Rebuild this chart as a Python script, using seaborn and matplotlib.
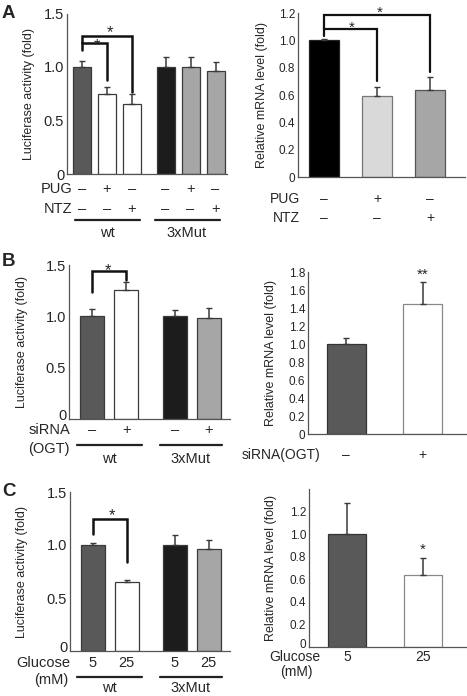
import matplotlib
matplotlib.use("Agg")
import matplotlib.pyplot as plt
import matplotlib.transforms as mtransforms
from matplotlib.lines import Line2D
import seaborn as sns
import pandas as pd

# ---- data ----
# A: luciferase, wt / 3xMut x (ctrl, PUG, NTZ)
a_luc_cond = ["wt ctrl", "wt PUG", "wt NTZ", "3xMut ctrl", "3xMut PUG", "3xMut NTZ"]
a_luc_mean = [1.00, 0.75, 0.65, 1.00, 1.00, 0.96]
a_luc_err = [0.06, 0.06, 0.10, 0.09, 0.09, 0.09]
a_pug = ["–", "+", "–", "–", "+", "–"]
a_ntz = ["–", "–", "+", "–", "–", "+"]

# A: mRNA
a_mrna_cond = ["ctrl", "PUG", "NTZ"]
a_mrna_mean = [1.00, 0.59, 0.64]
a_mrna_err = [0.01, 0.065, 0.09]
a_mrna_pug = ["–", "+", "–"]
a_mrna_ntz = ["–", "–", "+"]

# B: siRNA(OGT)
b_luc_cond = ["wt -", "wt +", "3xMut -", "3xMut +"]
b_luc_mean = [1.00, 1.255, 1.00, 0.98]
b_luc_err = [0.07, 0.075, 0.06, 0.10]
b_sirna = ["–", "+", "–", "+"]
b_mrna_cond = ["-", "+"]
b_mrna_mean = [1.00, 1.44]
b_mrna_err = [0.067, 0.25]
b_mrna_sirna = ["–", "+"]

# C: glucose (mM)
c_luc_cond = ["wt 5", "wt 25", "3xMut 5", "3xMut 25"]
c_luc_mean = [1.00, 0.65, 1.00, 0.96]
c_luc_err = [0.02, 0.02, 0.09, 0.09]
c_glucose = ["5", "25", "5", "25"]
c_mrna_cond = ["5 mM", "25 mM"]
c_mrna_mean = [1.00, 0.64]
c_mrna_err = [0.275, 0.15]
c_mrna_glucose = ["5", "25"]

# ---- style ----
sns.set_style("white")
plt.rcParams["font.family"] = ["Liberation Sans", "DejaVu Sans"]

DARK, BLACK, NEARBLACK, LIGHT, VLIGHT, WHITE = "#595959", "#000000", "#1c1c1c", "#a6a6a6", "#d9d9d9", "#ffffff"
EDGE = "#3a3a3a"

W, H = 467, 696
fig = plt.figure(figsize=(W / 100, H / 100), dpi=100)


def px_axes(x0, x1, ytop, ybot):
    return fig.add_axes([x0 / W, 1 - ybot / H, (x1 - x0) / W, (ybot - ytop) / H])


def fy(ypx):
    return 1 - ypx / H


def draw_bars(ax, pos, cond, mean, err, colors, width, capsize, edges=None):
    df = pd.DataFrame({"pos": pos, "cond": cond, "mean": mean})
    sns.barplot(data=df, x="pos", y="mean", hue="cond", palette=colors, dodge=False,
                native_scale=True, legend=False, width=width, errorbar=None,
                edgecolor=EDGE, linewidth=0.9, ax=ax)
    if edges is not None:
        for patch, ec in zip(ax.patches, edges):
            patch.set_edgecolor(ec)
    ax.errorbar(pos, mean, yerr=[[0] * len(err), err], fmt="none", ecolor=EDGE,
                elinewidth=1.1, capsize=capsize, capthick=1.0)


def style_axes(ax, ylim, yticks, tick_fs, label, label_x, xlim, xt, zero_lift=0):
    ax.set_xlim(*xlim)
    ax.set_ylim(*ylim)
    ax.set_yticks(yticks)
    ax.set_yticklabels(["0" if t == 0 else f"{t:.1f}" for t in yticks], fontsize=tick_fs)
    ax.set_xticks(xt)
    ax.set_xticklabels([])
    ax.set_xlabel("")
    ax.set_ylabel(label, fontsize=9)
    ax.yaxis.set_label_coords(label_x, 0.5)
    for s in ["top", "right"]:
        ax.spines[s].set_visible(False)
    for s in ["left", "bottom"]:
        ax.spines[s].set_color("#555555")
        ax.spines[s].set_linewidth(0.9)
    ax.tick_params(axis="y", direction="in", length=2.5, width=0.8, color="#555555", pad=2)
    ax.tick_params(axis="x", direction="in", length=2.5, width=0.8, color="#555555")
    if zero_lift:
        # nudge the "0" label up a little so it clears the row labels beneath
        lbl = ax.yaxis.get_major_ticks()[0].label1
        lbl.set_transform(lbl.get_transform() +
                          mtransforms.ScaledTranslation(0, zero_lift / 100, fig.dpi_scale_trans))


def star(ax, x, y, s="*", fs=12):
    ax.annotate(s, (x, y), xytext=(0, -0.58 * fs), textcoords="offset points",
                ha="center", va="baseline", fontsize=fs, annotation_clip=False)


def bracket(ax, x0, x1, y0, ytop, y1, lw=1.8):
    ax.plot([x0, x0, x1, x1], [y0, ytop, ytop, y1], color="#111111", lw=lw,
            solid_joinstyle="miter", clip_on=False)


def row_text(ax, xs, ypx, labels, fs):
    tr = mtransforms.blended_transform_factory(ax.transData, fig.transFigure)
    for x, s in zip(xs, labels):
        ax.text(x, fy(ypx), s, transform=tr, ha="center", va="center", fontsize=fs)


def group_line(x0, x1, ypx):
    fig.add_artist(Line2D([x0 / W, x1 / W], [fy(ypx), fy(ypx)], color="#222222", lw=1.6))


def fig_text(xpx, ypx, s, fs, ha="right", **kw):
    fig.text(xpx / W, fy(ypx), s, ha=ha, va="center", fontsize=fs, **kw)


LUC = "Luciferase activity (fold)"
MRNA = "Relative mRNA level (fold)"
FS = 10.5

# ---------- A left ----------
ax = px_axes(67, 227, 13.5, 174)
pos6 = [0, 1, 2, 3.34, 4.34, 5.34]
draw_bars(ax, pos6, a_luc_cond, a_luc_mean, a_luc_err, [DARK, WHITE, WHITE, NEARBLACK, LIGHT, LIGHT], 0.72, 1.9)
style_axes(ax, (0, 1.5), [0, 0.5, 1.0, 1.5], FS, LUC, -0.2, (-0.6, 5.8), [2.67])
bracket(ax, 0, 1, 1.16, 1.22, 0.875)
bracket(ax, 0, 2, 1.22, 1.29, 0.77)
star(ax, 0.6, 1.245)
star(ax, 1.12, 1.365)
row_text(ax, pos6, 189, a_pug, FS)
row_text(ax, pos6, 209, a_ntz, FS)
fig_text(72, 189, "PUG", FS)
fig_text(72, 209, "NTZ", FS)
group_line(75, 140, 220)
group_line(155, 220, 220)
fig_text(107, 233, "wt", FS, ha="center")
fig_text(187, 233, "3xMut", FS, ha="center")
fig_text(2, 13, "A", 13.5, ha="left", fontweight="bold")

# ---------- A right ----------
ax = px_axes(298, 465, 13, 177)
pos3 = [0, 1, 2]
draw_bars(ax, pos3, a_mrna_cond, a_mrna_mean, a_mrna_err, [BLACK, VLIGHT, LIGHT], 0.57, 2.2,
          edges=["#222222", "#777777", "#555555"])
style_axes(ax, (0, 1.2), [0, 0.2, 0.4, 0.6, 0.8, 1.0, 1.2], 8.5, MRNA, -0.18, (-0.49, 2.66), [0.5, 1.5, 2.5])
bracket(ax, 0, 1, 1.03, 1.08, 0.70, lw=1.6)
bracket(ax, 0, 2, 1.08, 1.185, 0.77, lw=1.6)
star(ax, 0.52, 1.125, fs=11)
star(ax, 1.06, 1.235, fs=11)
row_text(ax, pos3, 199, a_mrna_pug, 10)
row_text(ax, pos3, 218, a_mrna_ntz, 10)
fig_text(300, 199, "PUG", 10)
fig_text(300, 218, "NTZ", 10)

# ---------- B left ----------
ax = px_axes(69, 230, 265, 419)
pos4 = [0, 1, 2.43, 3.43]
draw_bars(ax, pos4, b_luc_cond, b_luc_mean, b_luc_err, [DARK, WHITE, NEARBLACK, LIGHT], 0.71, 1.9)
style_axes(ax, (0, 1.5), [0, 0.5, 1.0, 1.5], FS, LUC, -0.255, (-0.68, 4.06), [1.7], zero_lift=4)
bracket(ax, 0, 1, 1.24, 1.44, 1.35)
star(ax, 0.46, 1.5)
row_text(ax, pos4, 430, b_sirna, FS)
fig_text(70, 430, "siRNA", FS)
fig_text(70, 449, "(OGT)", FS)
group_line(77, 142, 445)
group_line(160, 222, 445)
fig_text(109, 459, "wt", FS, ha="center")
fig_text(191, 459, "3xMut", FS, ha="center")
fig_text(2, 262, "B", 13.5, ha="left", fontweight="bold")

# ---------- B right ----------
ax = px_axes(308, 467, 272, 434)
pos2 = [0, 1]
draw_bars(ax, pos2, b_mrna_cond, b_mrna_mean, b_mrna_err, [DARK, WHITE], 0.51, 2.2,
          edges=["#333333", "#888888"])
style_axes(ax, (0, 1.8), [0, 0.2, 0.4, 0.6, 0.8, 1.0, 1.2, 1.4, 1.6, 1.8], 8.5, MRNA, -0.195, (-0.5, 1.58), [0.5, 1.5])
star(ax, 1, 1.82, "**", fs=11)
row_text(ax, pos2, 455, b_mrna_sirna, 10)
fig_text(320, 455, "siRNA(OGT)", 10)

# ---------- C left ----------
ax = px_axes(70, 230, 492, 651)
draw_bars(ax, pos4, c_luc_cond, c_luc_mean, c_luc_err, [DARK, WHITE, NEARBLACK, LIGHT], 0.71, 1.9)
style_axes(ax, (0, 1.5), [0, 0.5, 1.0, 1.5], FS, LUC, -0.2625, (-0.68, 4.06), [1.7], zero_lift=4)
bracket(ax, 0, 1, 1.10, 1.25, 0.84)
star(ax, 0.55, 1.33)
row_text(ax, pos4, 663, c_glucose, FS)
fig_text(70, 663, "Glucose", FS)
fig_text(68, 680, "(mM)", FS)
group_line(77, 142, 677)
group_line(160, 222, 677)
fig_text(109, 688, "wt", FS, ha="center")
fig_text(191, 688, "3xMut", FS, ha="center")
fig_text(2, 491, "C", 13.5, ha="left", fontweight="bold")

# ---------- C right ----------
ax = px_axes(309, 467, 489, 647)
draw_bars(ax, pos2, c_mrna_cond, c_mrna_mean, c_mrna_err, [DARK, WHITE], 0.51, 2.2,
          edges=["#333333", "#888888"])
style_axes(ax, (0, 1.4), [0, 0.2, 0.4, 0.6, 0.8, 1.0, 1.2, 1.4], 8.5, MRNA, -0.2, (-0.5, 1.58), [0.5, 1.5])
ax.set_yticklabels(["0", "0.2", "0.4", "0.6", "0.8", "1.0", "1.2", ""], fontsize=8.5)
lbl = ax.yaxis.get_major_ticks()[0].label1
lbl.set_transform(lbl.get_transform() + mtransforms.ScaledTranslation(0, 0.03, fig.dpi_scale_trans))
star(ax, 1, 0.905, fs=11)
row_text(ax, pos2, 657, c_mrna_glucose, 10)
fig_text(320, 657, "Glucose", 10)
fig_text(296, 672, "(mM)", 10, ha="center")

fig.savefig("out.png", dpi=100)
